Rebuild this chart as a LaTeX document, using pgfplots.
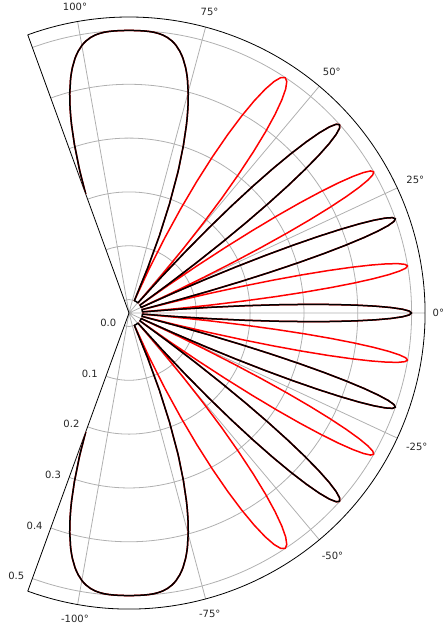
\documentclass[border=0pt]{standalone}
\usepackage{fontspec}
\setmainfont{DejaVu Sans}
\usepackage{pgfplots}
\usepackage{pgfplotstable}
\pgfplotsset{compat=1.18}
\usepgfplotslibrary{polar}

\definecolor{gridgray}{HTML}{B0B0B0}

% Two lobe patterns over -110..110 degrees: theta [deg], red pattern, black pattern
\pgfplotstableread{
theta red black
-110 0.2102 0.2102
-109.1881 0.25 0.25
-109 0.2587 0.2587
-107.9383 0.30438 0.30438
-107 0.3397 0.3397
-106.5978 0.35355 0.35355
-106 0.3725 0.3725
-105.1428 0.39668 0.39668
-104 0.4237 0.4237
-103.5360 0.43301 0.43301
-103 0.4428 0.4428
-102 0.4582 0.4582
-101.7157 0.46194 0.46194
-101 0.4703 0.4703
-100 0.4796 0.4796
-99.5604 0.48296 0.48296
-99 0.4866 0.4866
-98 0.4916 0.4916
-97 0.4951 0.4951
-96.7563 0.49572 0.49572
-96 0.49733 0.49733
-95 0.49871 0.49871
-94 0.49947 0.49947
-93 0.49983 0.49983
-92 0.49997 0.49997
-91 0.5 0.5
-90 0.5 0.5
-89 0.5 0.5
-88 0.49997 0.49997
-87 0.49983 0.49983
-86 0.49947 0.49947
-85 0.49871 0.49871
-84 0.49733 0.49733
-83.2437 0.49572 0.49572
-83 0.4951 0.4951
-82 0.4916 0.4916
-81 0.4866 0.4866
-80.4396 0.48296 0.48296
-80 0.4796 0.4796
-79 0.4703 0.4703
-78.2843 0.46194 0.46194
-78 0.4582 0.4582
-77 0.4428 0.4428
-76.4640 0.43301 0.43301
-76 0.4237 0.4237
-74.8572 0.39668 0.39668
-74 0.3725 0.3725
-73.4022 0.35355 0.35355
-73 0.3397 0.3397
-72 0.3018 0.3018
-71 0.2587 0.2587
-70.8119 0.25 0.25
-69.6359 0.19134 0.19134
-68.5216 0.12941 0.12941
-67.4599 0.06526 0.06526
-66.4435 0 0
-65.4717 0.06526 0
-64.5302 0.12941 0
-63.6198 0.19134 0
-62.7372 0.25 0
-61.8795 0.30438 0
-61.0456 0.35355 0
-60.2363 0.39668 0
-59.4453 0.43301 0
-58.6710 0.46194 0
-57.9120 0.48296 0
-57.1714 0.49572 0
-56.4427 0.5 0
-55.7320 0.49572 0
-55.0296 0.48296 0
-54.3437 0.46194 0
-53.6666 0.43301 0
-52.9977 0.39668 0
-52.3441 0.35355 0
-51.6973 0.30438 0
-51.0582 0.25 0
-50.4314 0.19134 0
-49.8099 0.12941 0
-49.1972 0.06526 0
-48.5904 0 0
-47.9924 0.06526 0.06526
-47.4034 0.12941 0.12941
-46.8179 0.19134 0.19134
-46.2399 0.25 0.25
-45.6679 0.30438 0.30438
-45.1003 0.35355 0.35355
-44.5407 0.39668 0.39668
-43.9831 0.43301 0.43301
-43.4346 0.46194 0.46194
-42.8879 0.48296 0.48296
-42.3482 0.49572 0.49572
-41.8103 0.5 0.5
-41.2802 0.49572 0.49572
-40.7528 0.48296 0.48296
-40.2295 0.46194 0.46194
-39.7105 0.43301 0.43301
-39.1949 0.39668 0.39668
-38.6837 0.35355 0.35355
-38.1753 0.30438 0.30438
-37.6714 0.25 0.25
-37.1698 0.19134 0.19134
-36.6726 0.12941 0.12941
-36.1777 0.06526 0.06526
-35.6867 0 0
-35.1980 0.06526 0
-34.7128 0.12941 0
-34.2299 0.19134 0
-33.7501 0.25 0
-33.2729 0.30438 0
-32.7981 0.35355 0
-32.3263 0.39668 0
-31.8561 0.43301 0
-31.3894 0.46194 0
-30.9236 0.48296 0
-30.4618 0.49572 0
-30.0000 0.5 0
-29.5428 0.49572 0
-29.0857 0.48296 0
-28.6321 0.46194 0
-28.1793 0.43301 0
-27.7291 0.39668 0
-27.2805 0.35355 0
-26.8335 0.30438 0
-26.3889 0.25 0
-25.9447 0.19134 0
-25.5039 0.12941 0
-25.0630 0.06526 0
-24.6253 0 0
-24.1880 0.06526 0.06526
-23.7527 0.12941 0.12941
-23.3188 0.19134 0.19134
-22.8857 0.25 0.25
-22.4551 0.30438 0.30438
-22.0244 0.35355 0.35355
-21.5966 0.39668 0.39668
-21.1689 0.43301 0.43301
-20.7430 0.46194 0.46194
-20.3182 0.48296 0.48296
-19.8941 0.49572 0.49572
-19.4712 0.5 0.5
-19.0499 0.49572 0.49572
-18.6300 0.48296 0.48296
-18.2105 0.46194 0.46194
-17.7921 0.43301 0.43301
-17.3748 0.39668 0.39668
-16.9578 0.35355 0.35355
-16.5429 0.30438 0.30438
-16.1279 0.25 0.25
-15.7144 0.19134 0.19134
-15.3015 0.12941 0.12941
-14.8891 0.06526 0.06526
-14.4781 0 0
-14.0671 0.06526 0
-13.6576 0.12941 0
-13.2484 0.19134 0
-12.8399 0.25 0
-12.4323 0.30438 0
-12.0247 0.35355 0
-11.6186 0.39668 0
-11.2126 0.43301 0
-10.8072 0.46194 0
-10.4025 0.48296 0
-9.9979 0.49572 0
-9.5941 0.5 0
-9.1907 0.49572 0
-8.7880 0.48296 0
-8.3855 0.46194 0
-7.9835 0.43301 0
-7.5820 0.39668 0
-7.1808 0.35355 0
-6.7799 0.30438 0
-6.3794 0.25 0
-5.9792 0.19134 0
-5.5792 0.12941 0
-5.1796 0.06526 0
-4.7802 0 0
-4.3810 0.06526 0.06526
-3.9821 0.12941 0.12941
-3.5833 0.19134 0.19134
-3.1848 0.25 0.25
-2.7863 0.30438 0.30438
-2.3880 0.35355 0.35355
-1.9898 0.39668 0.39668
-1.5918 0.43301 0.43301
-1.1938 0.46194 0.46194
-0.7958 0.48296 0.48296
-0.3979 0.49572 0.49572
0 0.5 0.5
0.3979 0.49572 0.49572
0.7958 0.48296 0.48296
1.1938 0.46194 0.46194
1.5918 0.43301 0.43301
1.9898 0.39668 0.39668
2.3880 0.35355 0.35355
2.7863 0.30438 0.30438
3.1848 0.25 0.25
3.5833 0.19134 0.19134
3.9821 0.12941 0.12941
4.3810 0.06526 0.06526
4.7802 0 0
5.1796 0.06526 0
5.5792 0.12941 0
5.9792 0.19134 0
6.3794 0.25 0
6.7799 0.30438 0
7.1808 0.35355 0
7.5820 0.39668 0
7.9835 0.43301 0
8.3855 0.46194 0
8.7880 0.48296 0
9.1907 0.49572 0
9.5941 0.5 0
9.9979 0.49572 0
10.4025 0.48296 0
10.8072 0.46194 0
11.2126 0.43301 0
11.6186 0.39668 0
12.0247 0.35355 0
12.4323 0.30438 0
12.8399 0.25 0
13.2484 0.19134 0
13.6576 0.12941 0
14.0671 0.06526 0
14.4781 0 0
14.8891 0.06526 0.06526
15.3015 0.12941 0.12941
15.7144 0.19134 0.19134
16.1279 0.25 0.25
16.5429 0.30438 0.30438
16.9578 0.35355 0.35355
17.3748 0.39668 0.39668
17.7921 0.43301 0.43301
18.2105 0.46194 0.46194
18.6300 0.48296 0.48296
19.0499 0.49572 0.49572
19.4712 0.5 0.5
19.8941 0.49572 0.49572
20.3182 0.48296 0.48296
20.7430 0.46194 0.46194
21.1689 0.43301 0.43301
21.5966 0.39668 0.39668
22.0244 0.35355 0.35355
22.4551 0.30438 0.30438
22.8857 0.25 0.25
23.3188 0.19134 0.19134
23.7527 0.12941 0.12941
24.1880 0.06526 0.06526
24.6253 0 0
25.0630 0.06526 0
25.5039 0.12941 0
25.9447 0.19134 0
26.3889 0.25 0
26.8335 0.30438 0
27.2805 0.35355 0
27.7291 0.39668 0
28.1793 0.43301 0
28.6321 0.46194 0
29.0857 0.48296 0
29.5428 0.49572 0
30.0000 0.5 0
30.4618 0.49572 0
30.9236 0.48296 0
31.3894 0.46194 0
31.8561 0.43301 0
32.3263 0.39668 0
32.7981 0.35355 0
33.2729 0.30438 0
33.7501 0.25 0
34.2299 0.19134 0
34.7128 0.12941 0
35.1980 0.06526 0
35.6867 0 0
36.1777 0.06526 0.06526
36.6726 0.12941 0.12941
37.1698 0.19134 0.19134
37.6714 0.25 0.25
38.1753 0.30438 0.30438
38.6837 0.35355 0.35355
39.1949 0.39668 0.39668
39.7105 0.43301 0.43301
40.2295 0.46194 0.46194
40.7528 0.48296 0.48296
41.2802 0.49572 0.49572
41.8103 0.5 0.5
42.3482 0.49572 0.49572
42.8879 0.48296 0.48296
43.4346 0.46194 0.46194
43.9831 0.43301 0.43301
44.5407 0.39668 0.39668
45.1003 0.35355 0.35355
45.6679 0.30438 0.30438
46.2399 0.25 0.25
46.8179 0.19134 0.19134
47.4034 0.12941 0.12941
47.9924 0.06526 0.06526
48.5904 0 0
49.1972 0.06526 0
49.8099 0.12941 0
50.4314 0.19134 0
51.0582 0.25 0
51.6973 0.30438 0
52.3441 0.35355 0
52.9977 0.39668 0
53.6666 0.43301 0
54.3437 0.46194 0
55.0296 0.48296 0
55.7320 0.49572 0
56.4427 0.5 0
57.1714 0.49572 0
57.9120 0.48296 0
58.6710 0.46194 0
59.4453 0.43301 0
60.2363 0.39668 0
61.0456 0.35355 0
61.8795 0.30438 0
62.7372 0.25 0
63.6198 0.19134 0
64.5302 0.12941 0
65.4717 0.06526 0
66.4435 0 0
67.4599 0.06526 0.06526
68.5216 0.12941 0.12941
69.6359 0.19134 0.19134
70.8119 0.25 0.25
71 0.2587 0.2587
72 0.3018 0.3018
73 0.3397 0.3397
73.4022 0.35355 0.35355
74 0.3725 0.3725
74.8572 0.39668 0.39668
76 0.4237 0.4237
76.4640 0.43301 0.43301
77 0.4428 0.4428
78 0.4582 0.4582
78.2843 0.46194 0.46194
79 0.4703 0.4703
80 0.4796 0.4796
80.4396 0.48296 0.48296
81 0.4866 0.4866
82 0.4916 0.4916
83 0.4951 0.4951
83.2437 0.49572 0.49572
84 0.49733 0.49733
85 0.49871 0.49871
86 0.49947 0.49947
87 0.49983 0.49983
88 0.49997 0.49997
89 0.5 0.5
90 0.5 0.5
91 0.5 0.5
92 0.49997 0.49997
93 0.49983 0.49983
94 0.49947 0.49947
95 0.49871 0.49871
96 0.49733 0.49733
96.7563 0.49572 0.49572
97 0.4951 0.4951
98 0.4916 0.4916
99 0.4866 0.4866
99.5604 0.48296 0.48296
100 0.4796 0.4796
101 0.4703 0.4703
101.7157 0.46194 0.46194
102 0.4582 0.4582
103 0.4428 0.4428
103.5360 0.43301 0.43301
104 0.4237 0.4237
105.1428 0.39668 0.39668
106 0.3725 0.3725
106.5978 0.35355 0.35355
107 0.3397 0.3397
107.9383 0.30438 0.30438
109 0.2587 0.2587
109.1881 0.25 0.25
110 0.2102 0.2102
}\lobes

\begin{document}
\begin{tikzpicture}
\begin{polaraxis}[
  scale only axis,
  width=592pt, height=592pt,
  xmin=-110, xmax=110,
  ymin=0, ymax=0.55,
  % the radial scale starts slightly below zero, so every radius is lifted by 0.025
  y filter/.expression={y+0.025},
  xtick={-100,-75,-50,-25,0,25,50,75,100},
  xticklabels={-100°,-75°,-50°,-25°,0°,25°,50°,75°,100°},
  ytick={0.025,0.125,0.225,0.325,0.425,0.525},
  yticklabels={0.0,0.1,0.2,0.3,0.4,0.5},
  grid=major,
  major grid style={gridgray, line width=0.8pt},
  axis line style={black, line width=0.8pt},
  major tick length=0pt,
  ticklabel style={font=\fontsize{10}{12}\selectfont, text=black!85},
  xticklabel style={inner sep=7.5pt},
  yticklabel style={anchor=east, inner sep=0pt, xshift=-8pt, yshift=2.5pt},
]
\addplot[red, line width=1.5pt, line join=round] table[x=theta, y=red] {\lobes};
\addplot[black, line width=1.5pt, line join=round] table[x=theta, y=black] {\lobes};
\coordinate (o) at (axis cs:0,0);
\end{polaraxis}
\pgfresetboundingbox
\path[use as bounding box] ([xshift=-129pt, yshift=313pt]o) rectangle ([xshift=314pt, yshift=-317pt]o);
\end{tikzpicture}
\end{document}
